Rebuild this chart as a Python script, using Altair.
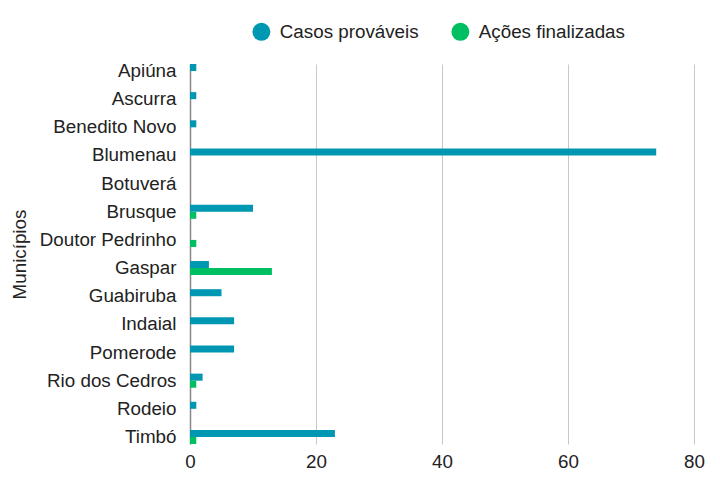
import altair as alt
import pandas as pd

municipios = ["Apiúna", "Ascurra", "Benedito Novo", "Blumenau", "Botuverá", "Brusque",
              "Doutor Pedrinho", "Gaspar", "Guabiruba", "Indaial", "Pomerode",
              "Rio dos Cedros", "Rodeio", "Timbó"]
casos = [1, 1, 1, 74, 0, 10, 0, 3, 5, 7, 7, 2, 1, 23]
acoes = [0, 0, 0, 0, 0, 1, 1, 13, 0, 0, 0, 1, 0, 1]
series = ["Casos prováveis", "Ações finalizadas"]
colors = ["#0097b2", "#00bf63"]
x_ticks = [0, 20, 40, 60, 80]

rows = []
for m, c, a in zip(municipios, casos, acoes):
    rows.append({"Município": m, "Série": series[0], "Valor": c})
    rows.append({"Município": m, "Série": series[1], "Valor": a})
df = pd.DataFrame(rows)

FONT = "Liberation Sans"
TXT = "#222222"
FS = 18.8

chart = alt.Chart(df).mark_bar().encode(
    y=alt.Y("Município:N", sort=municipios, title="Municípios",
            scale=alt.Scale(paddingInner=0.5, paddingOuter=0),
            axis=alt.Axis(labelFontSize=FS, labelFont=FONT, labelColor=TXT, ticks=False,
                          labelPadding=14, domainColor="#888888", domainWidth=1.5,
                          titleFontSize=FS, titleFont=FONT, titleColor=TXT,
                          titleFontWeight="normal", titlePadding=10, grid=False)),
    x=alt.X("Valor:Q", scale=alt.Scale(domain=[0, 80], nice=False),
            axis=alt.Axis(values=x_ticks, title=None, domain=False, ticks=False,
                          gridColor="#c8c8c8", gridWidth=1, labelFontSize=FS,
                          labelFont=FONT, labelColor=TXT, labelPadding=8,
                          labelFlush=False)),
    yOffset=alt.YOffset("Série:N", sort=series, scale=alt.Scale(domain=series)),
    color=alt.Color("Série:N", scale=alt.Scale(domain=series, range=colors),
                    legend=alt.Legend(title=None, orient="none", legendX=62, legendY=-42,
                                      direction="horizontal", symbolType="circle",
                                      symbolSize=324, symbolStrokeWidth=0, symbolOpacity=1,
                                      labelFontSize=FS, labelFont=FONT, labelColor=TXT,
                                      labelOffset=9, columnPadding=32, padding=0)),
).properties(
    width=504, height=380,
    autosize=alt.AutoSizeParams(type="none"),
    padding={"left": 182, "top": 56, "right": 16, "bottom": 32},
).configure_view(stroke=None)

chart.save("out.html", embed_options={"renderer": "svg", "actions": False})
